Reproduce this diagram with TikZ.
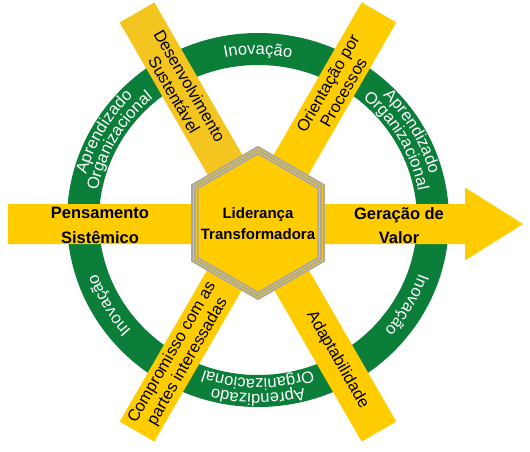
\documentclass[tikz,border=0pt]{standalone}
\usepackage{fontspec}
\setmainfont{Liberation Sans}
\usetikzlibrary{decorations.text}
\definecolor{yel}{HTML}{FFCC00}
\definecolor{yeldark}{HTML}{F4C41F}
\definecolor{ringgreen}{HTML}{0B7F3A}
\definecolor{hexgray}{HTML}{A8A8A8}
\newcommand\myringfont{\fontsize{16.5}{17}\selectfont}
\begin{document}
\begin{tikzpicture}[x=1pt,y=1pt,
  barlabel/.style={align=center, font=\fontsize{16.5}{18}\selectfont, text=black, inner sep=0},
  axislabel/.style={align=center, font=\fontsize{16.5}{24.5}\selectfont\bfseries, text=black, inner sep=0},
  hexlabel/.style={align=center, font=\fontsize{15}{21}\selectfont\bfseries, text=black, inner sep=0},
  ringtext/.style={decorate, decoration={text along path, text align=center, text={|\myringfont\color{white}|#1}}},
  barfill/.style={fill=yel},
  hexline/.style={draw=hexgray, line width=1.9}
]
\useasboundingbox (-258,-229) rectangle (272,222);

% green ring
\fill[ringgreen, even odd rule] (0,2) ellipse [x radius=191, y radius=187] (0,2) ellipse [x radius=159, y radius=155];

% ring texts
\begin{scope}[shift={(0,2)}]
\path[ringtext=Inovação] (140:170 and 165.5) arc[start angle=140, end angle=40, x radius=170, y radius=165.5];
\path[ringtext=Aprendizado] (80:178 and 174) arc[start angle=80, end angle=-20, x radius=178, y radius=174];
\path[ringtext=Organizacional] (80:163 and 159) arc[start angle=80, end angle=-20, x radius=163, y radius=159];
\path[ringtext=Inovação] (20:170 and 165.5) arc[start angle=20, end angle=-80, x radius=170, y radius=165.5];
\path[ringtext=Aprendizado] (-40:178 and 174) arc[start angle=-40, end angle=-140, x radius=178, y radius=174];
\path[ringtext=Organizacional] (-40:163 and 159) arc[start angle=-40, end angle=-140, x radius=163, y radius=159];
\path[ringtext=Inovação] (-100:170 and 165.5) arc[start angle=-100, end angle=-200, x radius=170, y radius=165.5];
\path[ringtext=Aprendizado] (200:178 and 174) arc[start angle=200, end angle=100, x radius=178, y radius=174];
\path[ringtext=Organizacional] (200:163 and 159) arc[start angle=200, end angle=100, x radius=163, y radius=159];
\end{scope}

% diagonal bars
\fill[yeldark, rotate=120] (0,-20) rectangle (242,20);
\fill[barfill, rotate=60] (0,-20) rectangle (242,20);
\fill[barfill, rotate=-60] (0,-20) rectangle (242,20);
\fill[barfill, rotate=-120] (0,-20) rectangle (242,20);

% horizontal arrow
\fill[barfill] (-250,-22) -- (207,-22) -- (207,-38.5) -- (265,-2) -- (207,34.5) -- (207,18) -- (-250,18) -- cycle;

% hexagon
\begin{scope}[shift={(0,-1)}]
\fill[yel] (90:77) -- (30:77) -- (-30:77) -- (-90:77) -- (-150:77) -- (150:77) -- cycle;
\foreach \r in {76,72.8,69.6}
  \draw[hexline, line join=miter] (90:\r) -- (30:\r) -- (-30:\r) -- (-90:\r) -- (-150:\r) -- (150:\r) -- cycle;
\end{scope}

% labels
\node[hexlabel] (lead) at (0,-1.5) {Liderança\\Transformadora};
\node[axislabel] (pens) at (-158,-3.5) {Pensamento\\Sistêmico};
\node[axislabel] (valor) at (141,-3.5) {Geração de\\Valor};
\node[barlabel, rotate=-60] (desenv) at (120:152) {Desenvolvimento\\Sustentável};
\node[barlabel, rotate=60] (orient) at (60:155) {Orientação por\\Processos};
\node[barlabel, rotate=-60] (adapt) at (-60:159) {Adaptabilidade};
\node[barlabel, rotate=60] (compr) at (-120:156) {Compromisso com as\\partes interessadas};
\end{tikzpicture}
\end{document}
